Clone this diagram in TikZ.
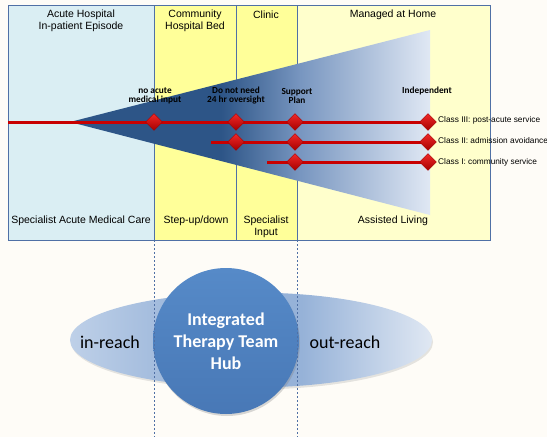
\documentclass[tikz,border=0pt]{standalone}
\usepackage{fontspec}
\setmainfont{Liberation Sans}
\newfontfamily\calibri{Carlito}
\usetikzlibrary{shapes.geometric,shadows}

\definecolor{paper}{RGB}{254,252,247}
\definecolor{acute}{RGB}{218,238,243}
\definecolor{bed}{RGB}{255,255,153}
\definecolor{home}{RGB}{255,255,204}
\definecolor{frame}{RGB}{79,112,165}
\definecolor{wedgedark}{RGB}{45,85,135}
\definecolor{wedgemid}{RGB}{120,150,192}
\definecolor{wedgelight}{RGB}{224,232,244}
\definecolor{classred}{RGB}{200,0,0}
\definecolor{gemlight}{RGB}{240,40,40}
\definecolor{gemdark}{RGB}{165,0,0}
\definecolor{lobeleft}{RGB}{190,208,232}
\definecolor{lobemid}{RGB}{150,178,216}
\definecolor{loberight}{RGB}{224,232,243}
\definecolor{hubtop}{RGB}{86,138,200}
\definecolor{hubedge}{RGB}{72,120,182}

% fade of the care wedge, left to right
\pgfdeclarehorizontalshading{wedgeshade}{100bp}{color(0bp)=(wedgedark); color(25bp)=(wedgedark); color(46bp)=(wedgedark); color(57bp)=(wedgemid); color(75bp)=(wedgelight); color(100bp)=(wedgelight)}
\pgfdeclarehorizontalshading{lobeshade}{100bp}{color(0bp)=(lobeleft); color(25bp)=(lobeleft); color(43bp)=(lobemid); color(57bp)=(lobemid); color(75bp)=(loberight); color(100bp)=(loberight)}

\begin{document}
\begin{tikzpicture}[x=1pt,y=-1pt,
  head/.style={font=\fontsize{10.5}{12.5}\selectfont,align=center,inner sep=0pt},
  tag/.style={font=\calibri\bfseries\fontsize{9.3}{9}\selectfont,align=center,inner sep=0pt},
  cls/.style={font=\fontsize{8.3}{9}\selectfont,anchor=west,inner sep=0pt},
  gem/.style={diamond,minimum width=17pt,minimum height=17pt,inner sep=0pt,
    top color=gemlight,bottom color=gemdark,draw=gemdark,line width=0.3pt},
  classline/.style={classred,line width=3pt},
  guide/.style={frame,line width=0.7pt,dash pattern=on 2pt off 2pt},
  reach/.style={font=\calibri\fontsize{18}{22}\selectfont,inner sep=0pt},
]
\fill[paper] (0,0) rectangle (547,437);
\useasboundingbox (0,0) rectangle (547,437);

% settings, left to right
\coordinate (A) at (8,5);
\coordinate (B) at (154,5);
\coordinate (C) at (236,5);
\coordinate (D) at (297,5);
\coordinate (E) at (490,240);
\fill[acute] (A) rectangle (B|-E);
\fill[bed] (B) rectangle (D|-E);
\fill[home] (D) rectangle (E);
\draw[frame,line width=0.7pt] (B)--(B|-E) (C)--(C|-E) (D)--(D|-E);

% the wedge
\coordinate (apex) at (70,122);
\shade[shading=wedgeshade] (apex)--(430,30)--(430,215)--cycle;
\draw[frame,line width=0.9pt] (A) rectangle (E);

\node[head] (acutehead) at (81,21) {Acute Hospital\\In-patient Episode};
\node[head] (bedhead) at (195,21) {Community\\Hospital Bed};
\node[head] (clinichead) at (266,15) {Clinic};
\node[head] (homehead) at (393,15) {Managed at Home};
\node[head] (acutefoot) at (81,221) {Specialist Acute Medical Care};
\node[head] (bedfoot) at (196,221) {Step-up/down};
\node[head] (clinicfoot) at (266,227) {Specialist\\Input};
\node[head] (homefoot) at (393,221) {Assisted Living};

\node[tag] (noacute) at (155,95.5) {no acute\\medical input};
\node[tag] (oversight) at (236,95.5) {Do not need\\24 hr oversight};
\node[tag] (plan) at (297,95.5) {Support\\Plan};
\node[tag] (indep) at (427,91) {Independent};

% class lines
\coordinate (s3) at (8,122);   \coordinate (e3) at (428,122);
\coordinate (s2) at (211,142); \coordinate (e2) at (428,142);
\coordinate (s1) at (267,162); \coordinate (e1) at (428,162);
\draw[classline] (s3)--(e3);
\draw[classline] (s2)--(e2);
\draw[classline] (s1)--(e1);
\node[gem] (g31) at (154,122) {};
\node[gem] (g32) at (236,122) {};
\node[gem] (g33) at (295,122) {};
\node[gem] (g34) at (e3) {};
\node[gem] (g22) at (236,142) {};
\node[gem] (g23) at (295,142) {};
\node[gem] (g24) at (e2) {};
\node[gem] (g13) at (295,162) {};
\node[gem] (g14) at (e1) {};
\node[cls] (cls3) at (438,120) {Class III: post-acute service};
\node[cls] (cls2) at (438,141) {Class II: admission avoidance};
\node[cls] (cls1) at (438,162) {Class I: community service};

% hub
\node[ellipse,minimum width=362pt,minimum height=95pt,shade,shading=lobeshade,
  drop shadow={opacity=0.2,shadow xshift=1pt,shadow yshift=-2pt}] (lobes) at (251,340) {};
\node[reach] (inreach) at (110,342) {in-reach};
\node[reach] (outreach) at (345,342) {out-reach};
\node[circle,minimum size=146pt,top color=hubtop,bottom color=hubedge,
  drop shadow={opacity=0.3,shadow xshift=1pt,shadow yshift=-2pt},
  text=white,align=center,font=\calibri\bfseries\fontsize{18}{22}\selectfont]
  (hub) at (226,341) {Integrated\\Therapy Team\\Hub};

\coordinate (bot) at (0,437);
\draw[guide] (B|-E)--(B|-bot);
\draw[guide] (D|-E)--(D|-bot);
\end{tikzpicture}
\end{document}
